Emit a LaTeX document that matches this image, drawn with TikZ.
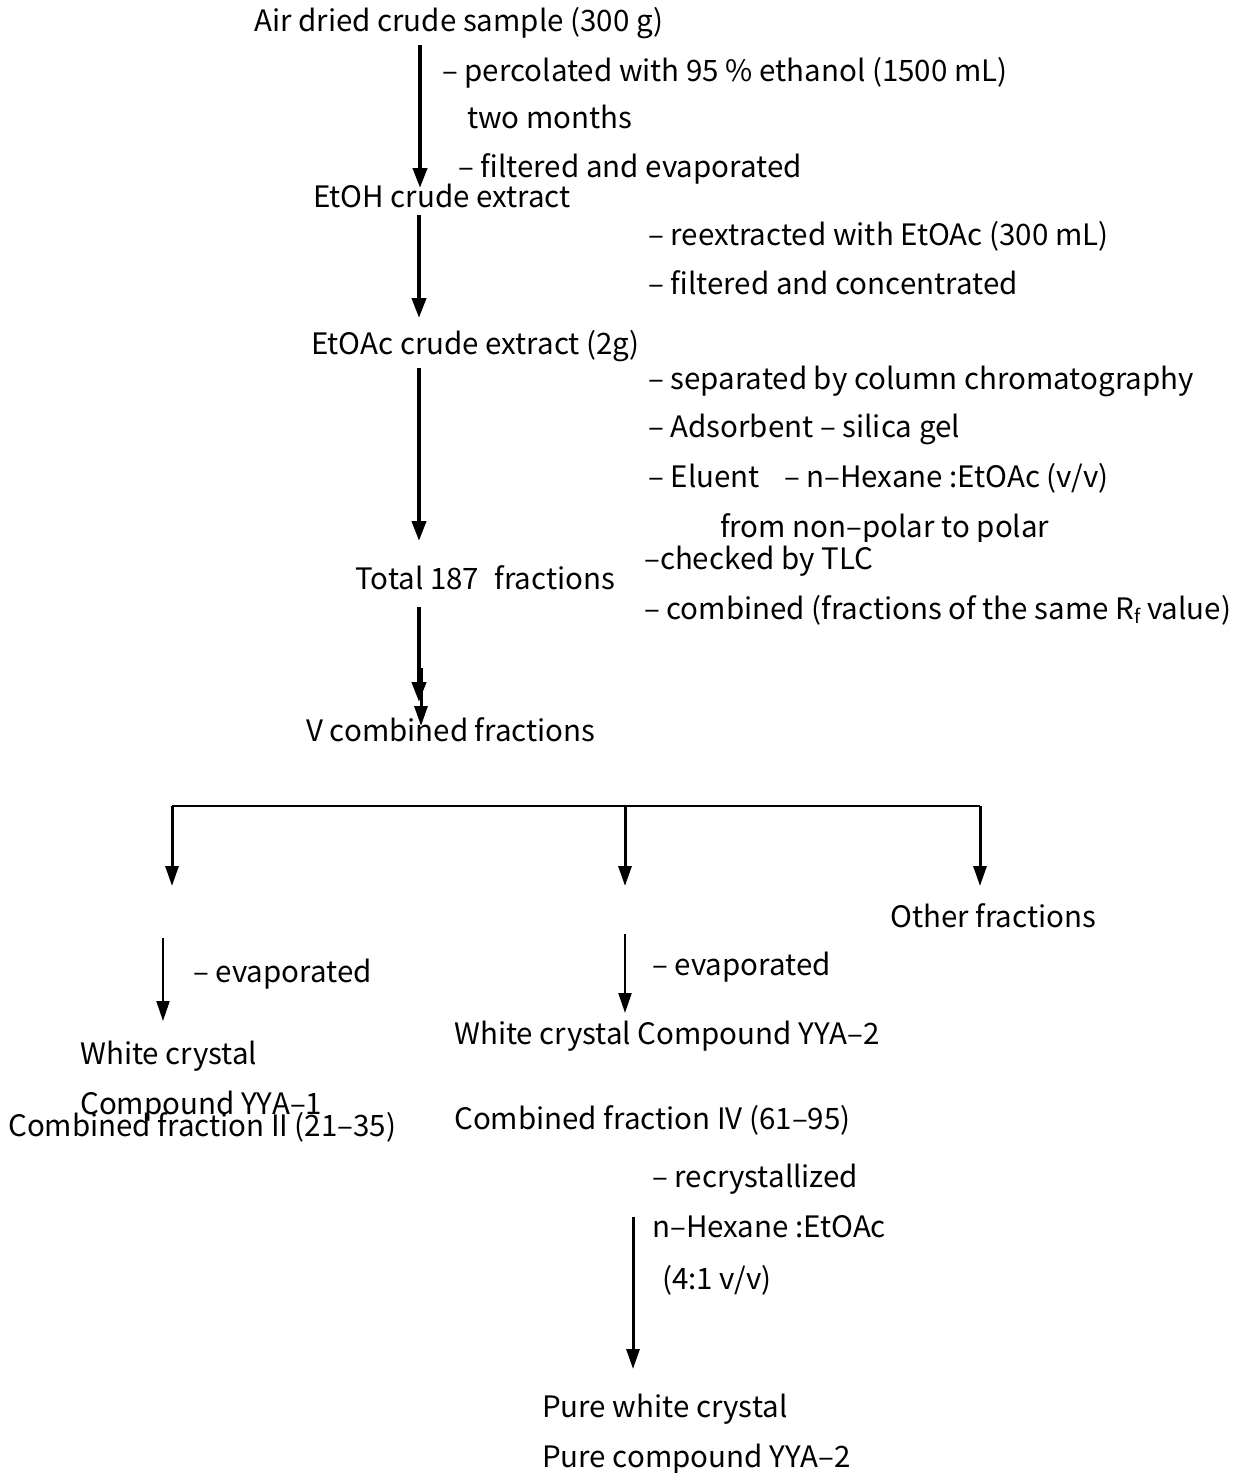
\documentclass[tikz,border=0pt]{standalone}
\usepackage{fontspec}
\setmainfont{Noto Sans CJK SC}
\usetikzlibrary{arrows.meta}
\begin{document}
\begin{tikzpicture}[x=1pt,y=-1pt,
  lbl/.style={anchor=west,inner sep=0pt,yshift=-7pt,font=\fontsize{29.5}{31}\selectfont,text height=0.75em,text depth=0.25em},
  flow/.style={line width=4pt,-{Triangle[length=20pt,width=14pt]}},
  thinflow/.style={line width=2.2pt,-{Triangle[length=20pt,width=13pt]}},
  midflow/.style={line width=3pt,-{Triangle[length=20pt,width=13pt]}}]
\useasboundingbox (0,0) rectangle (1241,1473);
\node[lbl] (t1) at (254,22) {Air dried crude sample (300 g)};
\node[lbl] (t2) at (442,72) {– percolated with 95 \% ethanol (1500 mL)};
\node[lbl] (t3) at (467,119) {two months};
\node[lbl] (t4) at (458,168) {– filtered and evaporated};
\node[lbl] (t5) at (313,198) {EtOH crude extract};
\node[lbl] (t6) at (648,236) {– reextracted with EtOAc (300 mL)};
\node[lbl] (t7) at (648,285) {– filtered and concentrated};
\node[lbl] (t8) at (311,345) {EtOAc crude extract (2g)};
\node[lbl] (t9) at (648,380) {– separated by column chromatography};
\node[lbl] (t10) at (648,428) {– Adsorbent – silica gel};
\node[lbl] (t11) at (648,478) {– Eluent\hspace{0.6em} – n–Hexane :EtOAc (v/v)};
\begin{scope}
\clip (600,500) rectangle (1241,541);
\node[lbl] (t12) at (720,528) {from non–polar to polar};
\end{scope}
\node[lbl] (t13) at (644,560) {–checked by TLC};
\node[lbl] (t14) at (355,580) {Total 187\hspace{0.3em} fractions};
\node[lbl] (t15) at (644,610) {– combined (fractions of the same R\raisebox{-0.25ex}{\fontsize{19}{20}\selectfont f} value)};
\node[lbl] (t16) at (306,732) {V combined fractions};
\node[lbl] (t17) at (890,918) {Other fractions};
\node[lbl] (t18) at (193,973) {– evaporated};
\node[lbl] (t19) at (652,966) {– evaporated};
\node[lbl] (t20) at (80,1055) {White crystal};
\node[lbl] (t21) at (454,1035) {White crystal Compound YYA–2};
\node[lbl] (t22) at (80,1105) {Compound YYA–1};
\node[lbl] (t23) at (8,1127) {Combined fraction II (21–35)};
\node[lbl] (t24) at (454,1120) {Combined fraction IV (61–95)};
\node[lbl] (t25) at (652,1178) {– recrystallized};
\node[lbl] (t26) at (652,1228) {n–Hexane :EtOAc};
\node[lbl] (t27) at (662,1280) {(4:1 v/v)};
\node[lbl] (t28) at (542,1408) {Pure white crystal};
\node[lbl] (t29) at (542,1458) {Pure compound YYA–2};
% arrow endpoints
\coordinate (a1s) at (420,45);  \coordinate (a1e) at (420,188);
\coordinate (a2s) at (419,215); \coordinate (a2e) at (419,318);
\coordinate (a3s) at (419,368); \coordinate (a3e) at (419,541);
\coordinate (a4s) at (419,607); \coordinate (a4e) at (419,702);
\coordinate (a5s) at (421,668); \coordinate (a5e) at (421,726);
\coordinate (bl) at (172,806); \coordinate (bm) at (625,806); \coordinate (br) at (980,806);
\coordinate (ble) at (172,886); \coordinate (bme) at (625,886); \coordinate (bre) at (980,886);
\coordinate (e1s) at (163,938); \coordinate (e1e) at (163,1021);
\coordinate (e2s) at (625,934); \coordinate (e2e) at (625,1013);
\coordinate (rs) at (633,1217); \coordinate (re) at (633,1369);
\draw[flow] (a1s) -- (a1e);
\draw[flow] (a2s) -- (a2e);
\draw[flow] (a3s) -- (a3e);
\draw[flow] (a4s) -- (a4e);
\draw[midflow] (a5s) -- (a5e);
\draw[line width=2pt] (bl) -- (br);
\draw[midflow] (bl) -- (ble);
\draw[midflow] (bm) -- (bme);
\draw[midflow] (br) -- (bre);
\draw[thinflow] (e1s) -- (e1e);
\draw[thinflow] (e2s) -- (e2e);
\draw[midflow] (rs) -- (re);
\end{tikzpicture}
\end{document}
